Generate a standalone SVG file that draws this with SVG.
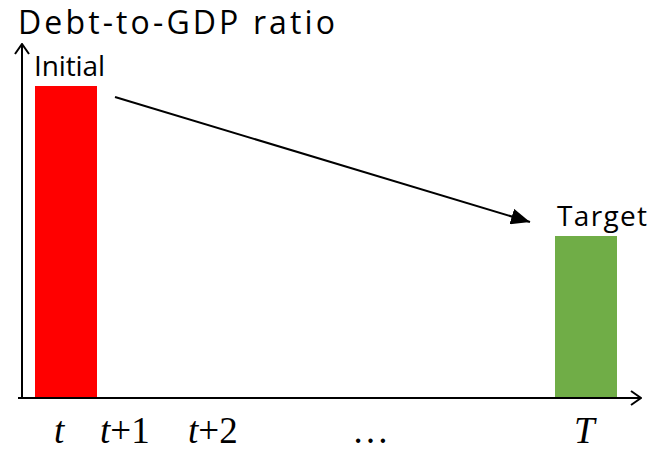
<svg xmlns="http://www.w3.org/2000/svg" width="651" height="451" viewBox="0 0 651 451">
<style>
.lbl{font-family:"Open Sans","Noto Sans",sans-serif;fill:#000}
.tk{font-family:"Liberation Serif",serif;font-size:37px;fill:#000}
.ax{stroke:#000;stroke-width:2;fill:none}
</style>
<defs>
<marker id="open" markerWidth="12" markerHeight="16" refX="11" refY="8" orient="auto" markerUnits="userSpaceOnUse">
<path d="M1,1 L11,8 L1,15" fill="none" stroke="#000" stroke-width="2"/>
</marker>
<marker id="fill" markerWidth="20" markerHeight="16" refX="19" refY="8" orient="auto" markerUnits="userSpaceOnUse">
<path d="M0,0 L19,8 L0,16 Z" fill="#000"/>
</marker>
</defs>
<rect width="651" height="451" fill="#fff"/>
<g id="title"><text class="lbl" x="18" y="34" font-size="32" textLength="317" lengthAdjust="spacing">Debt-to-GDP ratio</text></g>
<g id="initial">
<rect x="35" y="86" width="62" height="312" fill="#ff0000"/>
<text class="lbl" x="34" y="76" font-size="28" textLength="71" lengthAdjust="spacing">Initial</text>
</g>
<g id="target">
<rect x="555" y="236" width="62" height="162" fill="#70ad47"/>
<text class="lbl" x="557" y="226" font-size="28" textLength="90" lengthAdjust="spacing">Target</text>
</g>
<g id="connectors">
<path class="ax" d="M22,398 L22,44" marker-end="url(#open)"/>
<path class="ax" d="M18,398 L641,398" marker-end="url(#open)"/>
<path d="M115,97 L530,222" stroke="#000" stroke-width="2" fill="none" marker-end="url(#fill)"/>
</g>
<g id="ticks">
<text class="tk" x="54" y="443" font-style="italic">t</text>
<text class="tk" x="100" y="443"><tspan font-style="italic">t</tspan>+1</text>
<text class="tk" x="188" y="443"><tspan font-style="italic">t</tspan>+2</text>
<text class="tk" x="352" y="443">…</text>
<text class="tk" x="574" y="443" font-style="italic">T</text>
</g>
</svg>
